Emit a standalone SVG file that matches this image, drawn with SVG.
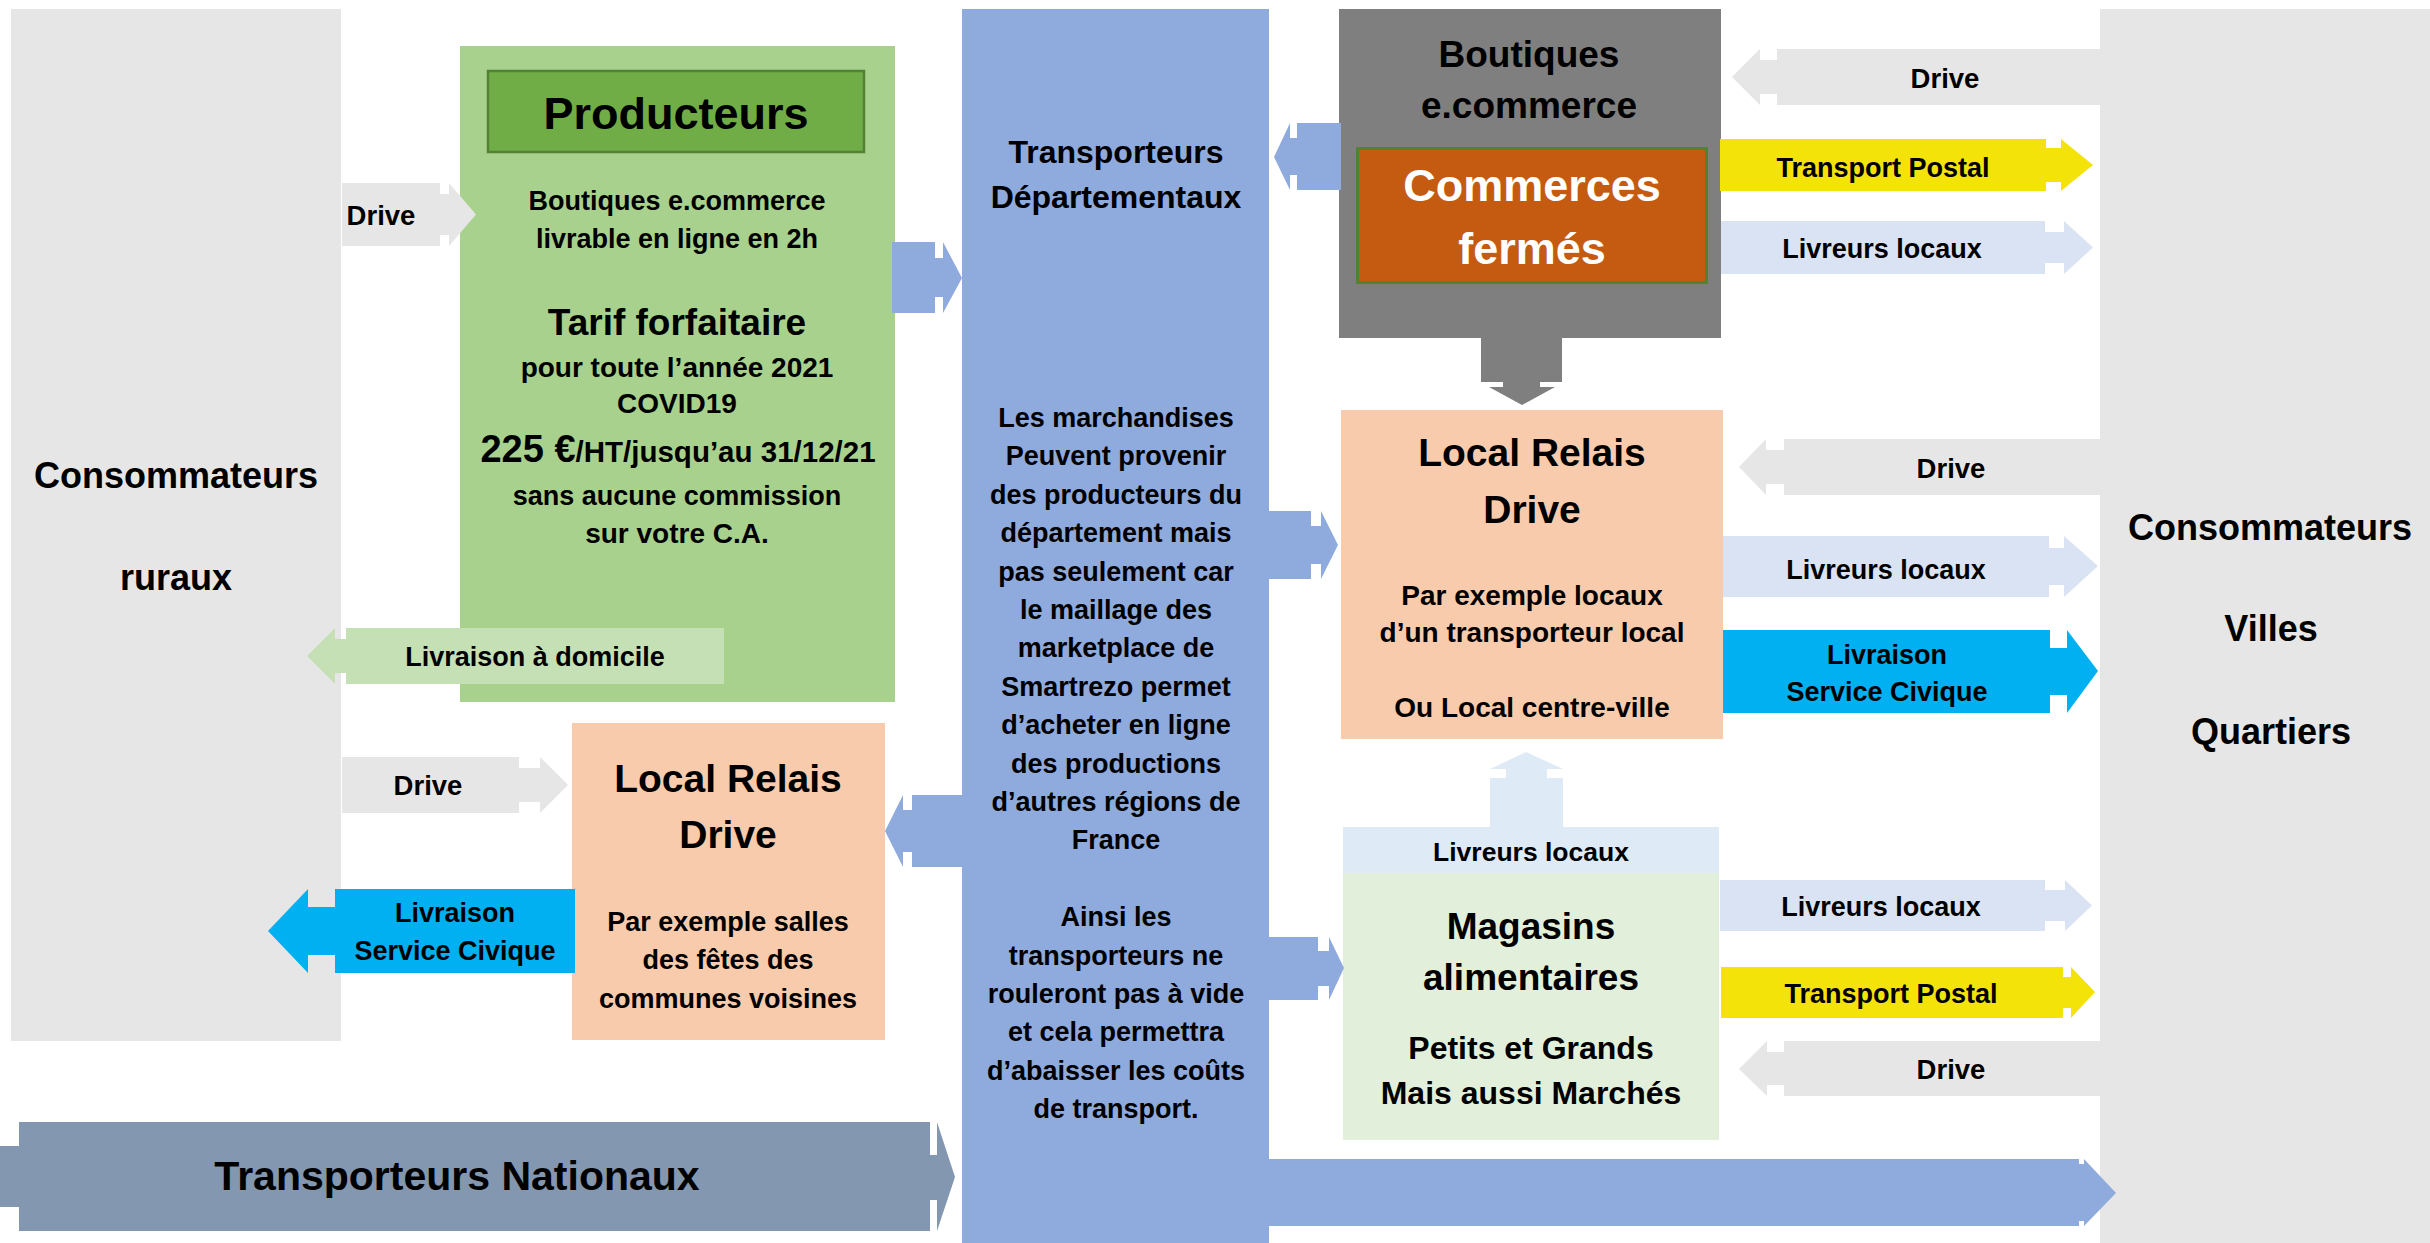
<svg xmlns="http://www.w3.org/2000/svg" width="2430" height="1243" viewBox="0 0 2430 1243">
<style>
text{font-family:"Liberation Sans",Arial,sans-serif;font-weight:bold;fill:#000;text-anchor:middle}
.panel{fill:#E7E6E6}
.blue{fill:#8FAADC}
.lgrey{fill:#E7E6E6}
.lblue{fill:#DAE3F3}
.yellow{fill:#F3E309}
.cyan{fill:#00B0F0}
.lgreen{fill:#C5E0B4}
.peach{fill:#F8CBAD}
.s27{font-size:27px}
.s28{font-size:28px}
.s36{font-size:36px}
.s37{font-size:37px}
.s39{font-size:39px}
</style>
<rect width="2430" height="1243" fill="#FFFFFF"/>

<g id="consommateurs-ruraux">
<rect class="panel" x="11" y="9" width="330" height="1032"/>
<text class="s36" x="176" y="488">Consommateurs</text>
<text class="s36" x="176" y="590">ruraux</text>
</g>

<g id="consommateurs-villes">
<rect class="panel" x="2100" y="9" width="330" height="1234"/>
<text class="s36" x="2270" y="540">Consommateurs</text>
<text class="s36" x="2271" y="641">Villes</text>
<text class="s36" x="2271" y="744">Quartiers</text>
</g>

<g id="transporteurs-departementaux">
<rect class="blue" x="962" y="9" width="307" height="1234"/>
<text x="1116" y="163" font-size="32">Transporteurs</text>
<text x="1116" y="207.5" font-size="32">Départementaux</text>
<g class="s27">
<text x="1116" y="427">Les marchandises</text>
<text x="1116" y="465.4">Peuvent provenir</text>
<text x="1116" y="503.8">des producteurs du</text>
<text x="1116" y="542.2">département mais</text>
<text x="1116" y="580.6">pas seulement car</text>
<text x="1116" y="619">le maillage des</text>
<text x="1116" y="657.4">marketplace de</text>
<text x="1116" y="695.8">Smartrezo permet</text>
<text x="1116" y="734.2">d’acheter en ligne</text>
<text x="1116" y="772.6">des productions</text>
<text x="1116" y="811">d’autres régions de</text>
<text x="1116" y="849.4">France</text>
<text x="1116" y="926.2">Ainsi les</text>
<text x="1116" y="964.6">transporteurs ne</text>
<text x="1116" y="1003">rouleront pas à vide</text>
<text x="1116" y="1041.4">et cela permettra</text>
<text x="1116" y="1079.8">d’abaisser les coûts</text>
<text x="1116" y="1118.2">de transport.</text>
</g>
</g>

<g id="producteurs">
<rect x="460" y="46" width="435" height="656" fill="#A9D18E"/>
<rect x="488" y="71" width="376" height="81" fill="#70AD47" stroke="#548235" stroke-width="2.5"/>
<text x="676" y="129" font-size="45">Producteurs</text>
<text class="s27" x="677" y="210">Boutiques e.commerce</text>
<text class="s27" x="677" y="248">livrable en ligne en 2h</text>
<text class="s37" x="677" y="335">Tarif forfaitaire</text>
<text class="s28" x="677" y="376.5">pour toute l’année 2021</text>
<text class="s28" x="677" y="413">COVID19</text>
<text x="678" y="461.5"><tspan font-size="38">225 €</tspan><tspan font-size="29.5">/HT/jusqu’au 31/12/21</tspan></text>
<text class="s27" x="677" y="505">sans aucune commission</text>
<text class="s28" x="677" y="543">sur votre C.A.</text>
</g>

<g id="boutiques-ecommerce">
<rect x="1339" y="9" width="382" height="329" fill="#7F7F7F"/>
<text class="s37" x="1529" y="67">Boutiques</text>
<text class="s37" x="1529" y="118">e.commerce</text>
<g id="commerces-fermes">
<rect x="1357.5" y="148.5" width="349" height="134" fill="#C55A11" stroke="#548235" stroke-width="3"/>
<text x="1532" y="201" font-size="45" style="fill:#FFFFFF">Commerces</text>
<text x="1532" y="264" font-size="45" style="fill:#FFFFFF">fermés</text>
</g>
</g>

<g id="local-relais-ville">
<rect class="peach" x="1341" y="410" width="382" height="329"/>
<text class="s39" x="1532" y="466">Local Relais</text>
<text class="s39" x="1532" y="523">Drive</text>
<text class="s28" x="1532" y="605">Par exemple locaux</text>
<text class="s28" x="1532" y="642">d’un transporteur local</text>
<text class="s28" x="1532" y="717">Ou Local centre-ville</text>
</g>

<g id="local-relais-rural">
<rect class="peach" x="572" y="723" width="313" height="317"/>
<text class="s39" x="728" y="792">Local Relais</text>
<text class="s39" x="728" y="848">Drive</text>
<text class="s27" x="728" y="931">Par exemple salles</text>
<text class="s27" x="728" y="969">des fêtes des</text>
<text class="s27" x="728" y="1007.5">communes voisines</text>
</g>

<g id="magasins-alimentaires">
<rect x="1343" y="827" width="376" height="46" fill="#DEEBF7"/>
<text x="1531" y="861" font-size="26.5">Livreurs locaux</text>
<rect x="1343" y="873" width="376" height="267" fill="#E2EFDA"/>
<text class="s37" x="1531" y="938.5">Magasins</text>
<text class="s37" x="1531" y="989.5">alimentaires</text>
<text x="1531" y="1059" font-size="32">Petits et Grands</text>
<text x="1531" y="1104" font-size="32">Mais aussi Marchés</text>
</g>

<g id="transporteurs-nationaux">
<path d="M0 1146 H19 V1122 H930 V1155 H937 V1122 L955 1177 L937 1231 V1200 H930 V1231 H19 V1207 H0 Z" fill="#8497B0"/>
<text x="457" y="1190" font-size="41">Transporteurs Nationaux</text>
</g>

<g id="connectors">
<path class="lgrey" d="M342 183 H440 V194 H449 V183 L476 214.5 L449 246 V235 H440 V246 H342 Z"/>
<text x="381" y="225" font-size="27.5">Drive</text>
<path class="blue" d="M892 242 H935 V258 H943 V242 L962 278 L943 313 V297 H935 V313 H892 Z"/>
<path class="lgreen" d="M724 628 H346 V639 H335 V628 L307 656 L335 684 V673 H346 V684 H724 Z"/>
<text class="s27" x="535" y="666">Livraison à domicile</text>
<path class="lgrey" d="M342 757 H519 V768 H540 V757 L568 785 L540 813 V802 H519 V813 H342 Z"/>
<text x="428" y="795" font-size="27.5">Drive</text>
<path class="cyan" d="M575 889 H335 V907 H308 V889 L268 931 L308 973 V955 H335 V973 H575 Z"/>
<text class="s27" x="455" y="922">Livraison</text>
<text class="s27" x="455" y="960">Service Civique</text>
<path class="blue" d="M962 795 H912 V810 H903 V795 L885 831 L903 867 V852 H912 V867 H962 Z"/>
<path class="blue" d="M1341 123 H1297 V138 H1290 V123 L1274 157 L1290 190 V175 H1297 V190 H1341 Z"/>
<path fill="#7F7F7F" d="M1481 338 H1562 V382 H1540 V387 H1555 L1522 405 L1489 387 H1503 V382 H1481 Z"/>
<path class="blue" d="M1268 511 H1311 V526 H1321 V511 L1338 545 L1321 579 V564 H1311 V579 H1268 Z"/>
<path class="blue" d="M1268 937 H1318 V951 H1329 V937 L1344 968 L1329 1000 V986 H1318 V1000 H1268 Z"/>
<path fill="#DEEBF7" d="M1490 828 V778 H1506 V769 H1490 L1526 752 L1563 769 H1547 V778 H1563 V828 Z"/>
<path class="blue" d="M1268 1159 H2079 V1164 H2084 V1159 L2116 1193 L2084 1226 V1221 H2079 V1226 H1268 Z"/>

<path class="lgrey" d="M2100 49 H1777 V60 H1760 V49 L1732 77 L1760 105 V94 H1777 V105 H2100 Z"/>
<text x="1945" y="88" font-size="27.5">Drive</text>
<path class="yellow" d="M1720 139 H2046 V148 H2061 V139 L2093 165 L2061 191 V182 H2046 V191 H1720 Z"/>
<text class="s27" x="1883" y="177">Transport Postal</text>
<path class="lblue" d="M1721 221 H2045 V232 H2064 V221 L2093 247.5 L2064 274 V263 H2045 V274 H1721 Z"/>
<text class="s27" x="1882" y="258">Livreurs locaux</text>
<path class="lgrey" d="M2100 439 H1784 V450 H1766 V439 L1739 467 L1766 495 V484 H1784 V495 H2100 Z"/>
<text x="1951" y="477.5" font-size="27.5">Drive</text>
<path class="lblue" d="M1723 536 H2049 V548 H2064 V536 L2098 566 L2064 597 V585 H2049 V597 H1723 Z"/>
<text class="s27" x="1886" y="578.5">Livreurs locaux</text>
<path class="cyan" d="M1723 630 H2050 V648 H2067 V630 L2098 671 L2067 713 V695 H2050 V713 H1723 Z"/>
<text class="s27" x="1887" y="663.5">Livraison</text>
<text class="s27" x="1887" y="701">Service Civique</text>
<path class="lblue" d="M1720 880 H2045 V890 H2065 V880 L2092 905.5 L2065 931 V921 H2045 V931 H1720 Z"/>
<text class="s27" x="1881" y="916">Livreurs locaux</text>
<path class="yellow" d="M1721 967 H2063 V977 H2071 V967 L2095 992 L2071 1018 V1008 H2063 V1018 H1721 Z"/>
<text class="s27" x="1891" y="1003">Transport Postal</text>
<path class="lgrey" d="M2100 1041 H1784 V1052 H1767 V1041 L1739 1069 L1767 1096 V1085 H1784 V1096 H2100 Z"/>
<text x="1951" y="1079" font-size="27.5">Drive</text>
</g>
</svg>
